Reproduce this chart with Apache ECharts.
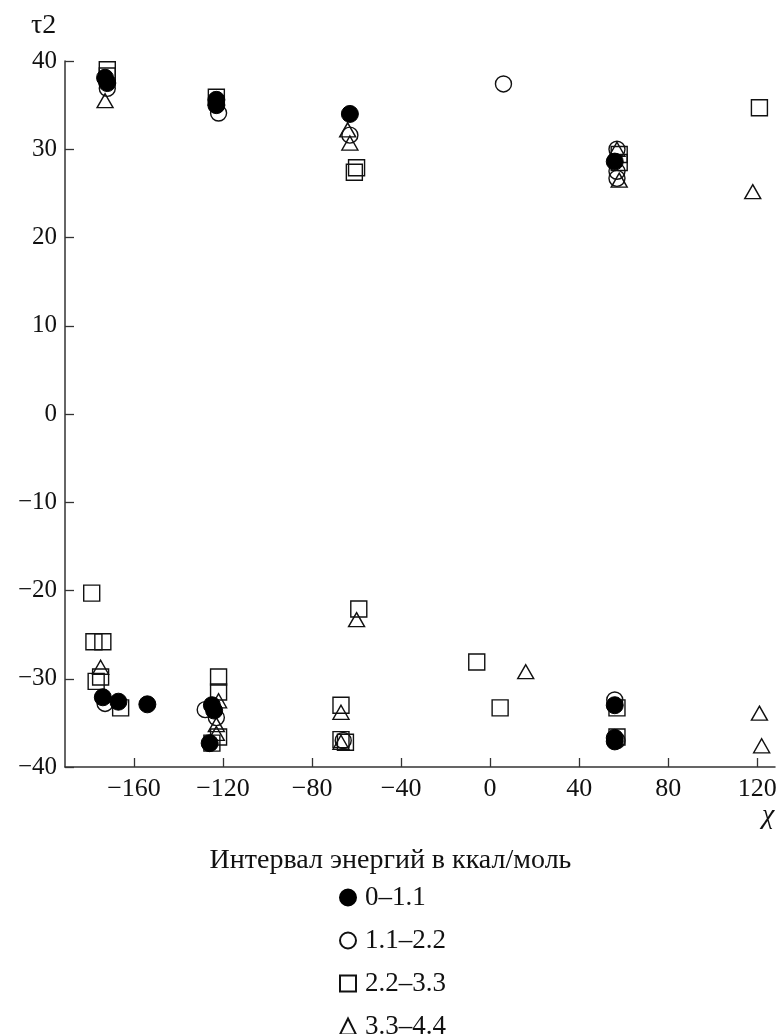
<!DOCTYPE html>
<html>
<head>
<meta charset="utf-8">
<script src="https://cdn.jsdelivr.net/npm/echarts@6/dist/echarts.min.js"></script>
<style>
html,body{margin:0;padding:0;background:#fff;}
#chart{width:781px;height:1034px;}
</style>
</head>
<body>
<div id="chart"></div>
<script>
const seriesNames = ['0–1.1', '1.1–2.2', '2.2–3.3', '3.3–4.4'];
const xTicks = [-160, -120, -80, -40, 0, 40, 80, 120];

const filled = [
  [-173, 38.1], [-172, 37.5], [-123, 35.6], [-123, 35.0], [-63, 34.0], [56, 28.6],
  [-174, -32.1], [-167, -32.6], [-154, -32.9], [-125, -33.0], [-124, -33.6], [-126, -37.3],
  [56, -33.0], [56, -36.7], [56, -37.1]
];
const openCircle = [
  [-172, 36.9], [-122, 34.1], [6, 37.4], [-63, 31.6], [57, 30.0], [57, 27.5], [57, 26.7],
  [-173, -32.8], [-128, -33.5], [-123, -34.4], [56, -32.4], [57, -37.0], [-66, -37.0]
];
const squares = [
  [-172, 39.0], [-172, 38.3], [-123, 35.9], [-61, 27.4], [-60, 27.9], [58, 28.5], [58, 29.4], [121, 34.7],
  [-179, -20.3], [-178, -25.8], [-174, -25.8], [-175, -29.8], [-177, -30.3], [-166, -33.3],
  [-122, -29.8], [-122, -31.5], [-122, -36.6], [-125, -37.3],
  [-67, -33.0], [-67, -36.9], [-65, -37.2], [-59, -22.1],
  [-6, -28.1], [4.5, -33.3], [57, -33.3], [57, -36.6]
];
const triangles = [
  [-173, 35.5], [-64, 32.2], [-63, 30.7], [57, 30.0], [58, 26.5], [118, 25.2],
  [-175, -28.7], [-122, -32.5], [-123, -35.2], [-123, -36.2], [-67, -33.8], [-67, -37.2],
  [-60, -23.3], [16, -29.2], [121, -33.9], [122, -37.6]
];

const FONT = 'Liberation Serif';
const fmt = v => (v < 0 ? '\u2212' + Math.abs(v) : String(v));

const chart = echarts.init(document.getElementById('chart'), null, {renderer: 'canvas'});
const openStyle = {color: 'rgba(0,0,0,0)', borderColor: '#111', borderWidth: 1.4, opacity: 1};

chart.setOption({
  backgroundColor: '#fff',
  animation: false,
  title: {
    text: 'Интервал энергий в ккал/моль',
    left: 'center',
    top: 847,
    padding: 0,
    textStyle: {fontFamily: FONT, fontSize: 28, fontWeight: 'normal', color: '#111'}
  },
  legend: {
    orient: 'vertical',
    left: 339,
    top: 884,
    height: 200,
    padding: 0,
    itemWidth: 16,
    itemHeight: 16,
    itemGap: 16,
    textStyle: {fontFamily: FONT, fontSize: 27, color: '#111', padding: [0, 0, 0, 4]},
    data: seriesNames
  },
  grid: {left: 65, right: 6, top: 61, bottom: 267, containLabel: false},
  xAxis: {
    type: 'value',
    min: -191,
    max: 128,
    axisLine: {show: true, onZero: false, lineStyle: {color: '#333', width: 1.5}},
    axisTick: {show: true, inside: true, length: 9, customValues: xTicks, lineStyle: {color: '#333', width: 1.3}},
    axisLabel: {customValues: xTicks, formatter: fmt, fontFamily: FONT, fontSize: 26, color: '#111', margin: 9},
    splitLine: {show: false}
  },
  yAxis: {
    type: 'value',
    min: -40,
    max: 40,
    interval: 10,
    axisLine: {show: true, onZero: false, lineStyle: {color: '#333', width: 1.5}},
    axisTick: {show: true, inside: true, length: 9, lineStyle: {color: '#333', width: 1.3}},
    axisLabel: {formatter: fmt, fontFamily: FONT, fontSize: 25, color: '#111', margin: 8},
    splitLine: {show: false}
  },
  graphic: [
    {type: 'text', left: 31, top: 12, style: {text: 'τ2', font: '28px "Liberation Serif"', fill: '#111'}},
    {type: 'text', left: 762, top: 802, style: {text: 'χ', font: 'italic 28px "Liberation Serif"', fill: '#111'}}
  ],
  series: [
    {name: seriesNames[0], type: 'scatter', symbol: 'circle', symbolSize: 17, data: filled, z: 4,
     itemStyle: {color: '#000', borderColor: '#000', borderWidth: 1, opacity: 1}},
    {name: seriesNames[1], type: 'scatter', symbol: 'circle', symbolSize: 16, data: openCircle, z: 3,
     itemStyle: openStyle},
    {name: seriesNames[2], type: 'scatter', symbol: 'rect', symbolSize: 16, data: squares, z: 2,
     itemStyle: openStyle},
    {name: seriesNames[3], type: 'scatter', symbol: 'triangle', symbolSize: [16, 14], data: triangles, z: 2,
     itemStyle: openStyle}
  ]
});
</script>
</body>
</html>
